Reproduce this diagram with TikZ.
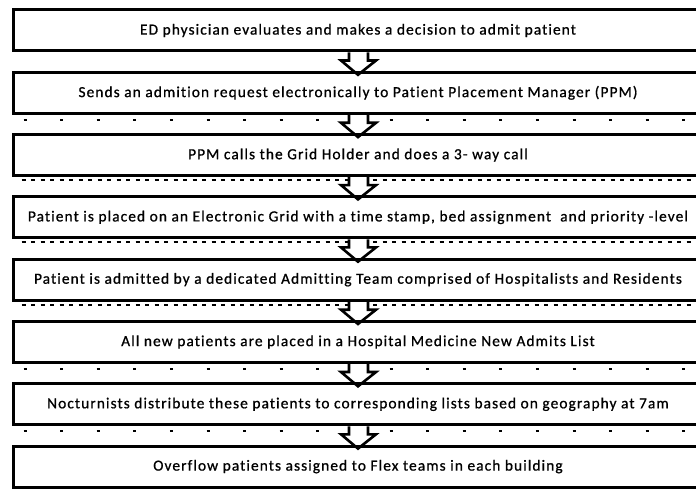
\documentclass[tikz,border=0pt]{standalone}
\usepackage{fontspec}
\setmainfont{Carlito}
\newfontfamily\boxfont[LetterSpace=7,FakeBold=0.8,Ligatures=NoCommon]{Carlito}
\usetikzlibrary{calc, backgrounds}

% block arrow from the bottom of one box to the top of the next
\newcommand{\flowarrow}[2]{%
  \draw[blockarrow] ($(#1.south)+(-9,0)$) -- ++(0,8) -- ++(-8,0)
    -- ($(#2.north)+(0,4)$) -- ($(#1.south)+(18,8)$) -- ++(-8,0)
    -- ($(#1.south)+(10,0)$);}

\begin{document}
\begin{tikzpicture}[x=1pt, y=-1pt,
  stepbox/.style={draw, line width=3pt, minimum width=690pt,
                  minimum height=41pt, inner sep=0pt,
                  font=\boxfont\fontsize{15.4}{17}\selectfont},
  blockarrow/.style={draw, line width=2.6pt, fill=white, line join=miter},
  sparseticks/.style={line width=2pt, dash pattern=on 3pt off 33.6pt},
  fineticks/.style={line width=2pt, dash pattern=on 4pt off 5.5pt}]
\useasboundingbox (0,0) rectangle (696,489);
\node[stepbox] (s1) at (358,30.5) {ED physician evaluates and makes a decision to admit patient};
\node[stepbox] (s2) at (358,92.8) {Sends an admition request electronically to Patient Placement Manager (PPM)};
\node[stepbox] (s3) at (358,155.1) {PPM calls the Grid Holder and does a 3- way call};
\node[stepbox] (s4) at (358,217.4) {Patient is placed on an Electronic Grid with a time stamp, bed assignment~ and priority -level};
\node[stepbox] (s5) at (358,279.7) {Patient is admitted by a dedicated Admitting Team comprised of Hospitalists and Residents};
\node[stepbox] (s6) at (358,342.0) {All new patients are placed in a Hospital Medicine New Admits List};
\node[stepbox] (s7) at (358,404.3) {Nocturnists distribute these patients to corresponding lists based on geography at 7am};
\node[stepbox] (s8) at (358,466.6) {Overflow patients assigned to Flex teams in each building};
\begin{scope}[on background layer]
  % rows of ticks under the boxes
  \draw[sparseticks] ($(s2.south west)+(12,5)$) -- ($(s2.south east)+(0,5)$);
  \draw[fineticks] ($(s3.south west)+(10,3)$) -- ($(s3.south east)+(0,3)$);
  \draw[fineticks] ($(s4.south west)+(10,3)$) -- ($(s4.south east)+(0,3)$);
  \draw[fineticks] ($(s5.south west)+(10,3)$) -- ($(s5.south east)+(0,3)$);
  \draw[sparseticks] ($(s6.south west)+(12,5)$) -- ($(s6.south east)+(0,5)$);
  \draw[sparseticks] ($(s7.south west)+(12,5)$) -- ($(s7.south east)+(0,5)$);
  \flowarrow{s1}{s2}
  \flowarrow{s2}{s3}
  \flowarrow{s3}{s4}
  \flowarrow{s4}{s5}
  \flowarrow{s5}{s6}
  \flowarrow{s6}{s7}
  \flowarrow{s7}{s8}
\end{scope}
\end{tikzpicture}
\end{document}
